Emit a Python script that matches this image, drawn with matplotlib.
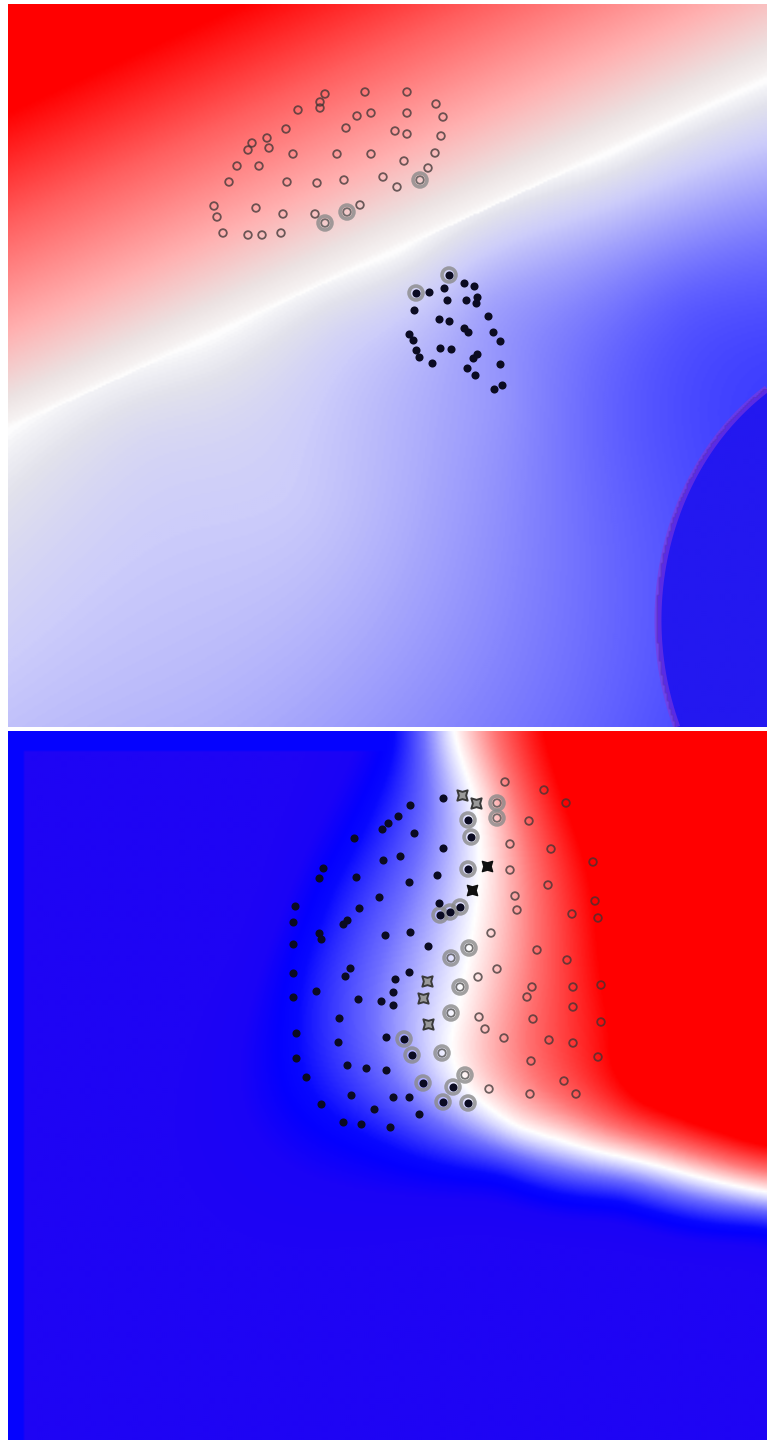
"""Two stacked classifier-output maps: decision value as a blue/white/red field,
training points on top (filled = negative class, open = positive class),
support vectors ringed in grey, misfits drawn as four-point stars."""

import numpy as np
import matplotlib
matplotlib.use("Agg")
import matplotlib.pyplot as plt
from matplotlib.colors import LinearSegmentedColormap, ListedColormap, Normalize

W, H = 767, 1448

# ---- data (pixel-space coordinates) --------------------------------------
# top panel: open circles (positive class)
top_pos_x = [325, 365, 407, 320, 320, 298, 436, 443, 357, 371, 407, 286, 346,
             395, 407, 441, 267, 252, 248, 269, 293, 337, 371, 404, 435, 237,
             259, 428, 229, 287, 317, 344, 383, 397, 214, 217, 256, 283, 315,
             360, 223, 248, 262, 281]
top_pos_y = [94, 92, 92, 102, 108, 110, 104, 117, 116, 113, 113, 129, 128,
             131, 134, 136, 138, 143, 150, 148, 154, 154, 154, 161, 153, 166,
             166, 168, 182, 182, 183, 180, 177, 187, 206, 217, 208, 214, 214,
             205, 233, 235, 235, 233]
top_pos_sv_x = [420, 325, 347]
top_pos_sv_y = [180, 223, 212]
# top panel: filled dots (negative class)
top_neg_x = [464, 474, 444, 429, 447, 466, 477, 476, 414, 488, 439, 449, 464,
             468, 493, 500, 409, 413, 440, 451, 416, 419, 432, 477, 473, 500,
             467, 475, 494, 502]
top_neg_y = [283, 286, 288, 292, 300, 300, 297, 303, 310, 316, 319, 321, 328,
             332, 332, 341, 334, 340, 348, 349, 350, 357, 363, 354, 358, 364,
             368, 375, 389, 385]
top_neg_sv_x = [449, 416]
top_neg_sv_y = [275, 293]

# top panel, blue side: how saturated the blue is at sampled spots (0 = white)
top_blue_x = [8, 200, 400, 600, 767, 147, 343, 490, 686, 588, 500, 300, 8,
              200, 400, 600, 767, 767, 100]
top_blue_y = [429, 341, 249, 157, 80, 433, 333, 300, 300, 433, 400, 500, 720,
              720, 720, 720, 500, 250, 580]
top_blue_v = [0, 0, 0, 0, 0, -0.13, -0.16, -0.35, -0.62, -0.57, -0.41, -0.21,
              -0.24, -0.30, -0.42, -0.60, -0.75, -0.55, -0.20]

# bottom panel: filled dots (negative class)
bot_neg_x = [443, 410, 398, 388, 382, 414, 354, 443, 400, 383, 323, 319, 356,
             437, 409, 379, 295, 359, 439, 347, 343, 293, 319, 321, 385, 410,
             428, 293, 293, 350, 345, 409, 316, 395, 393, 393, 381, 358, 293,
             339, 296, 338, 386, 296, 306, 347, 366, 386, 351, 393, 409, 321,
             374, 419, 343, 361, 390]
bot_neg_y = [798, 805, 816, 823, 829, 833, 838, 848, 856, 860, 868, 878, 877,
             875, 882, 897, 906, 908, 903, 920, 924, 922, 933, 939, 935, 932,
             946, 944, 973, 968, 976, 972, 991, 979, 992, 1005, 1001, 999, 997,
             1018, 1033, 1042, 1037, 1058, 1077, 1065, 1068, 1070, 1095, 1097,
             1097, 1104, 1109, 1114, 1122, 1124, 1127]
bot_neg_sv_x = [468, 471, 468, 440, 450, 460, 404, 412, 423, 453, 443, 468]
bot_neg_sv_y = [820, 837, 869, 915, 912, 907, 1039, 1055, 1083, 1087, 1102, 1103]
# bottom panel: open circles (positive class)
bot_pos_x = [505, 544, 566, 529, 510, 551, 593, 510, 548, 595, 515, 517, 572,
             598, 491, 537, 567, 497, 478, 532, 527, 573, 601, 573, 479, 485,
             504, 533, 601, 549, 573, 531, 598, 564, 489, 530, 576]
bot_pos_y = [782, 790, 803, 821, 844, 849, 862, 870, 885, 901, 896, 910, 914,
             918, 933, 950, 960, 969, 977, 987, 997, 987, 985, 1007, 1017, 1029,
             1038, 1019, 1022, 1040, 1043, 1061, 1057, 1081, 1089, 1094, 1094]
bot_pos_sv_x = [497, 497, 451, 469, 460, 451, 442, 465]
bot_pos_sv_y = [803, 818, 958, 948, 987, 1013, 1053, 1075]
# bottom panel: misclassified points (stars)
bot_star_grey_x = [462, 476, 427, 423, 428]
bot_star_grey_y = [795, 803, 981, 998, 1024]
bot_star_dark_x = [487, 472]
bot_star_dark_y = [866, 890]

# bottom panel decision-value control points
bot_ctrl_x = [455, 475, 480, 470, 458, 452, 470, 520, 600, 680, 767,
              545, 565, 590, 600, 610, 640, 700, 767,
              390, 370, 330, 300, 290, 300, 380, 500, 620, 767,
              8, 8, 8, 400, 767, 767, 200, 600]
bot_ctrl_y = [731, 800, 870, 950, 1010, 1050, 1090, 1127, 1152, 1172, 1192,
              731, 800, 880, 960, 1030, 1100, 1125, 1145,
              731, 800, 880, 960, 1030, 1090, 1150, 1180, 1205, 1232,
              731, 1085, 1440, 1440, 1440, 731, 900, 1320]
bot_ctrl_v = [0, 0, 0, 0, 0, 0, 0, 0, 0, 0, 0,
              1, 1, 1, 1, 1, 1, 1, 1,
              -1, -1, -1, -1, -1, -1, -1, -1, -1, -1,
              -2, -2, -2, -2, -2, 2, -2, -2]

# ---- layout --------------------------------------------------------------
TOP_BOX = (8, 767, 4, 727)       # x0, x1, y0, y1 in figure pixels
BOT_BOX = (8, 767, 731, 1440)

DOT = "#0b0b22"
RING = "#3c3434"
HALO = "#8a8a8a"


def _cmap(anchors, vmin, vmax, name):
    """Colormap from (value, rgb255) anchors spread over [vmin, vmax]."""
    return LinearSegmentedColormap.from_list(
        name, [((v - vmin) / (vmax - vmin), tuple(c / 255 for c in rgb))
               for v, rgb in anchors])


def _tps(cx, cy, cv, gx, gy, scale=100.0, smooth=0.0):
    """Thin-plate-spline surface through (or near) the control values."""
    px, py = np.asarray(cx, float) / scale, np.asarray(cy, float) / scale
    n = len(px)

    def kern(r):
        with np.errstate(divide="ignore", invalid="ignore"):
            k = r ** 2 * np.log(r)
        return np.nan_to_num(k)

    r = np.hypot(px[:, None] - px[None, :], py[:, None] - py[None, :])
    P = np.column_stack([np.ones(n), px, py])
    A = np.zeros((n + 3, n + 3))
    A[:n, :n] = kern(r) + smooth * np.eye(n)
    A[:n, n:] = P
    A[n:, :n] = P.T
    b = np.concatenate([np.asarray(cv, float), np.zeros(3)])
    sol = np.linalg.solve(A, b)
    qx, qy = gx.ravel() / scale, gy.ravel() / scale
    rg = np.hypot(qx[:, None] - px[None, :], qy[:, None] - py[None, :])
    out = kern(rg) @ sol[:n] + sol[n] + sol[n + 1] * qx + sol[n + 2] * qy
    return out.reshape(gx.shape)


def _add_axes(fig, box):
    x0, x1, y0, y1 = box
    ax = fig.add_axes([x0 / W, 1 - y1 / H, (x1 - x0) / W, (y1 - y0) / H])
    ax.set_xlim(x0, x1)
    ax.set_ylim(y1, y0)
    ax.axis("off")
    return ax


def _points(ax, pos, pos_sv, neg, neg_sv):
    """Open circles, filled dots and grey support-vector rings."""
    for xs, ys in (pos_sv, neg_sv):
        ax.scatter(xs, ys, s=100, facecolors="none", edgecolors=HALO,
                   linewidths=2.6, alpha=0.8, zorder=3)
    ax.scatter(*neg, s=34, c=DOT, linewidths=0, zorder=4)
    ax.scatter(*neg_sv, s=34, c=DOT, linewidths=0, zorder=4)
    ax.scatter(*pos, s=30, facecolors="none", edgecolors=RING,
               linewidths=1.3, alpha=0.75, zorder=4)
    ax.scatter(*pos_sv, s=30, facecolors="none", edgecolors="#5a5a5a",
               linewidths=1.3, alpha=0.85, zorder=4)


def draw_top(fig):
    ax = _add_axes(fig, TOP_BOX)
    x0, x1, y0, y1 = TOP_BOX
    gx, gy = np.meshgrid(np.linspace(x0, x1, 380), np.linspace(y0, y1, 362))
    # red side: linear in the distance to the white separating line
    slope, icpt = -0.461, 433.0
    d = ((icpt + slope * gx) - gy) / np.hypot(1, slope)
    blue = _tps(top_blue_x, top_blue_y, top_blue_v, gx, gy, smooth=0.02)
    v = np.where(d >= 0, d / 290.0, np.minimum(blue, -0.0008 * np.abs(d)))
    v = np.clip(v, -1, 1)
    anchors = [(-1.0, (0, 0, 255)), (-0.6, (100, 100, 255)),
               (-0.2, (205, 205, 250)), (-0.08, (226, 226, 236)),
               (-0.025, (242, 242, 246)), (0, (255, 255, 255)),
               (0.025, (246, 242, 242)), (0.1, (236, 226, 226)),
               (0.3, (255, 178, 178)), (0.65, (255, 95, 95)),
               (1.0, (255, 0, 0))]
    cmap = _cmap(anchors, -1, 1, "top")
    ax.imshow(v, extent=(x0, x1, y1, y0), cmap=cmap, norm=Normalize(-1, 1),
              interpolation="bilinear", aspect="auto", zorder=0)
    # saturated region at lower right with its purple rim
    g = ((gx - 900) / 242) ** 2 + ((gy - 620) / 277) ** 2
    ax.imshow(np.ma.masked_where(g >= 1, g), extent=(x0, x1, y1, y0),
              cmap=ListedColormap(["#2318f0"]), interpolation="bilinear",
              aspect="auto", zorder=1)
    ax.contour(gx, gy, g, levels=[1], colors="#8038dc", linewidths=5,
               alpha=0.6, zorder=2)
    _points(ax, (top_pos_x, top_pos_y), (top_pos_sv_x, top_pos_sv_y),
            (top_neg_x, top_neg_y), (top_neg_sv_x, top_neg_sv_y))


def draw_bottom(fig):
    ax = _add_axes(fig, BOT_BOX)
    x0, x1, y0, y1 = BOT_BOX
    gx, gy = np.meshgrid(np.linspace(x0, x1, 380), np.linspace(y0, y1, 355))
    f = _tps(bot_ctrl_x, bot_ctrl_y, bot_ctrl_v, gx, gy)
    v = np.clip(f, -1.6, 1.0)
    frame = (gx < x0 + 16) | (gy < y0 + 19)
    v = np.where(frame, np.maximum(v, -1.02), v)
    anchors = [(-1.6, (30, 4, 244)), (-1.3, (26, 3, 246)),
               (-1.08, (4, 0, 254)), (-0.95, (8, 8, 255)),
               (-0.5, (110, 110, 255)), (-0.15, (215, 215, 255)),
               (0, (255, 255, 255)), (0.15, (255, 215, 215)),
               (0.5, (255, 115, 115)), (1.0, (255, 0, 0))]
    cmap = _cmap(anchors, -1.6, 1.0, "bottom")
    ax.imshow(v, extent=(x0, x1, y1, y0), cmap=cmap, norm=Normalize(-1.6, 1.0),
              interpolation="bilinear", aspect="auto", zorder=0)
    _points(ax, (bot_pos_x, bot_pos_y), (bot_pos_sv_x, bot_pos_sv_y),
            (bot_neg_x, bot_neg_y), (bot_neg_sv_x, bot_neg_sv_y))
    star = (4, 1, 45)
    ax.scatter(bot_star_grey_x, bot_star_grey_y, s=110, marker=star,
               facecolors="#9a9a9a", edgecolors="#3a3a3a", linewidths=1.4,
               zorder=5)
    ax.scatter(bot_star_dark_x, bot_star_dark_y, s=110, marker=star,
               facecolors="#101010", edgecolors="#101010", linewidths=1.0,
               zorder=5)


def main():
    fig = plt.figure(figsize=(W / 100, H / 100), dpi=100)
    draw_top(fig)
    draw_bottom(fig)
    fig.savefig("out.png", dpi=100)


if __name__ == "__main__":
    main()
